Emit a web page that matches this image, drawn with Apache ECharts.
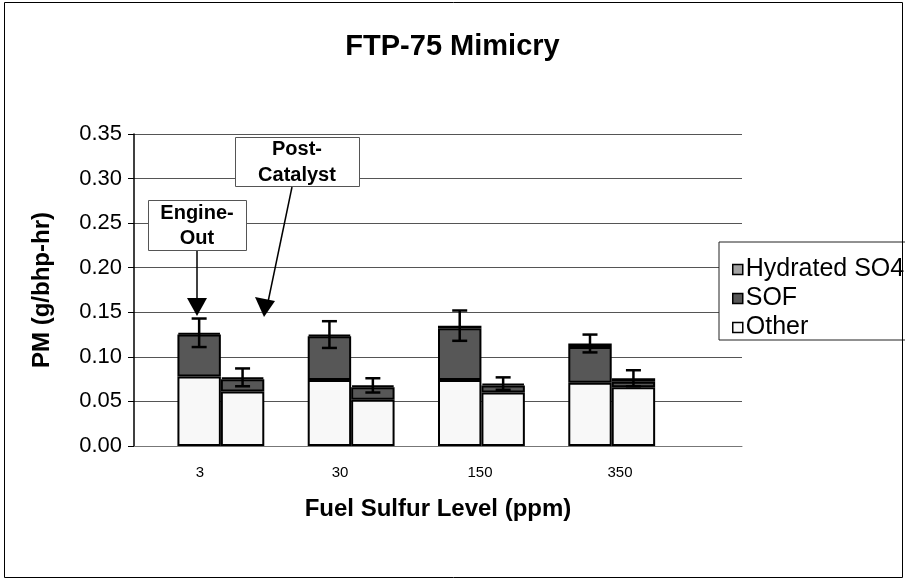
<!DOCTYPE html>
<html><head><meta charset="utf-8">
<script src="https://cdn.jsdelivr.net/npm/echarts@6/dist/echarts.min.js"></script>
<style>html,body{margin:0;padding:0;background:#fff}#c{width:905px;height:581px}</style>
</head><body><div id="c"></div>
<script>
// ---- data ----
const sulfurLevels = ['3', '30', '150', '350'];
const phases = ['Engine-Out', 'Post-Catalyst'];
// bars in order: 3 EO, 3 PC, 30 EO, 30 PC, 150 EO, 150 PC, 350 EO, 350 PC
const otherVals    = [0.078, 0.061, 0.074, 0.052, 0.074, 0.060, 0.071, 0.066];
const sofVals      = [0.047, 0.014, 0.049, 0.014, 0.058, 0.008, 0.040, 0.006];
const hydratedVals = [0.002, 0.002, 0.002, 0.002, 0.003, 0.002, 0.004, 0.004];
const errHalf      = [0.016, 0.010, 0.015, 0.008, 0.017, 0.007, 0.010, 0.009];
const yTicks = [0, 0.05, 0.10, 0.15, 0.20, 0.25, 0.30, 0.35];

// ---- build slot layout (blank slot, EO, PC per group) ----
const nSlots = 1 + sulfurLevels.length * 3 + 1;
const slotCats = Array.from({length: nSlots}, (_, i) => 's' + i);
function slotOf(i) { return 1 + 3 * Math.floor(i / 2) + (i % 2); }
function toSlots(arr) {
  const out = new Array(nSlots).fill(null);
  arr.forEach((v, i) => { out[slotOf(i)] = v; });
  return out;
}
const errData = otherVals.map((o, i) => {
  const tot = o + sofVals[i] + hydratedVals[i];
  return [slotOf(i), tot - errHalf[i], tot + errHalf[i]];
});

const FF = '"Liberation Sans", Arial, sans-serif';
const chart = echarts.init(document.getElementById('c'));
const barStyle = (c) => ({ color: c, borderColor: '#000', borderWidth: 2 });

chart.setOption({
  animation: false,
  backgroundColor: '#fff',
  title: {
    text: 'FTP-75 Mimicry', left: 'center', top: 27,
    textStyle: { fontFamily: FF, fontWeight: 'bold', fontSize: 29, color: '#000' }
  },
  legend: {
    orient: 'vertical', left: 719, top: 242,
    data: ['Hydrated SO4', 'SOF', 'Other'],
    icon: 'rect', itemWidth: 10, itemHeight: 10, itemGap: 4,
    padding: [15, 40, 0, 13],
    borderColor: '#222', borderWidth: 1, backgroundColor: '#fff',
    itemStyle: { borderColor: '#000', borderWidth: 1.5 },
    textStyle: { fontFamily: FF, fontSize: 25, color: '#000', padding: [0, 0, 0, -2] }
  },
  grid: [
    { left: 134, right: 163, top: 134, bottom: 135 },
    { left: 130, width: 560, top: 426, height: 20 }
  ],
  xAxis: [
    {
      type: 'category', gridIndex: 0, data: slotCats,
      axisLine: { lineStyle: { color: '#777', width: 1 } },
      axisTick: { show: false }, axisLabel: { show: false },
      name: 'Fuel Sulfur Level (ppm)', nameLocation: 'middle', nameGap: 51,
      nameTextStyle: { fontFamily: FF, fontWeight: 'bold', fontSize: 24, color: '#000' }
    },
    {
      type: 'category', gridIndex: 1, data: sulfurLevels,
      axisLine: { show: false }, axisTick: { show: false },
      axisLabel: { fontFamily: FF, fontSize: 15, color: '#000', margin: 19 }
    }
  ],
  yAxis: [
    {
      type: 'value', gridIndex: 0, min: 0, max: 0.35, interval: 0.05,
      axisLine: { show: true, lineStyle: { color: '#000', width: 1.5 } },
      axisTick: { show: true, length: 6, lineStyle: { color: '#000' } },
      axisLabel: { fontFamily: FF, fontSize: 22, color: '#000', margin: 12,
                   formatter: v => v.toFixed(2) },
      splitLine: { lineStyle: { color: '#555', width: 1 } },
      name: 'PM (g/bhp-hr)', nameLocation: 'middle', nameRotate: 90, nameGap: 80,
      nameTextStyle: { fontFamily: FF, fontWeight: 'bold', fontSize: 24, color: '#000' }
    },
    { type: 'value', gridIndex: 1, show: false }
  ],
  series: [
    { name: 'Other', type: 'bar', stack: 'pm', data: toSlots(otherVals),
      barCategoryGap: '0%', itemStyle: barStyle('#f8f8f8') },
    { name: 'SOF', type: 'bar', stack: 'pm', data: toSlots(sofVals),
      itemStyle: barStyle('#575757') },
    { name: 'Hydrated SO4', type: 'bar', stack: 'pm', data: toSlots(hydratedVals),
      itemStyle: barStyle('#a3a3a3') },
    {
      name: 'err', type: 'custom', z: 10, data: errData,
      renderItem: (params, api) => {
        const x = api.value(0);
        const lo = api.coord([x, api.value(1)]);
        const hi = api.coord([x, api.value(2)]);
        const hw = 7.5;
        const st = { stroke: '#000', lineWidth: 2.5 };
        return { type: 'group', children: [
          { type: 'line', shape: { x1: hi[0], y1: hi[1], x2: lo[0], y2: lo[1] }, style: st },
          { type: 'line', shape: { x1: hi[0] - hw, y1: hi[1], x2: hi[0] + hw, y2: hi[1] }, style: st },
          { type: 'line', shape: { x1: lo[0] - hw, y1: lo[1], x2: lo[0] + hw, y2: lo[1] }, style: st }
        ]};
      }
    }
  ],
  graphic: [
    { type: 'rect', shape: { x: 4.5, y: 2.5, width: 898, height: 575 },
      style: { fill: 'none', stroke: '#000', lineWidth: 1 }, z: 100, silent: true },
    // Engine-Out callout
    { type: 'rect', shape: { x: 148.5, y: 200.5, width: 98, height: 50 },
      style: { fill: '#fff', stroke: '#555', lineWidth: 1 }, z: 50 },
    { type: 'text', x: 197, y: 226, z: 51,
      style: { text: 'Engine-\nOut', textAlign: 'center', textVerticalAlign: 'middle',
               font: 'bold 20px ' + FF, lineHeight: 25, fill: '#000' } },
    { type: 'line', shape: { x1: 197, y1: 251, x2: 197, y2: 300 },
      style: { stroke: '#000', lineWidth: 1.5 }, z: 50 },
    { type: 'polygon', shape: { points: [[187, 298], [207, 298], [197, 316]] },
      style: { fill: '#000' }, z: 50 },
    // Post-Catalyst callout
    { type: 'rect', shape: { x: 235.5, y: 137.5, width: 124, height: 49 },
      style: { fill: '#fff', stroke: '#555', lineWidth: 1 }, z: 50 },
    { type: 'text', x: 297, y: 162, z: 51,
      style: { text: 'Post-\nCatalyst', textAlign: 'center', textVerticalAlign: 'middle',
               font: 'bold 20px ' + FF, lineHeight: 26, fill: '#000' } },
    { type: 'line', shape: { x1: 292, y1: 187, x2: 268, y2: 302 },
      style: { stroke: '#000', lineWidth: 1.5 }, z: 50 },
    { type: 'polygon', shape: { points: [[255, 297], [275, 301], [264, 317]] },
      style: { fill: '#000' }, z: 50 }
  ]
});
</script></body></html>
